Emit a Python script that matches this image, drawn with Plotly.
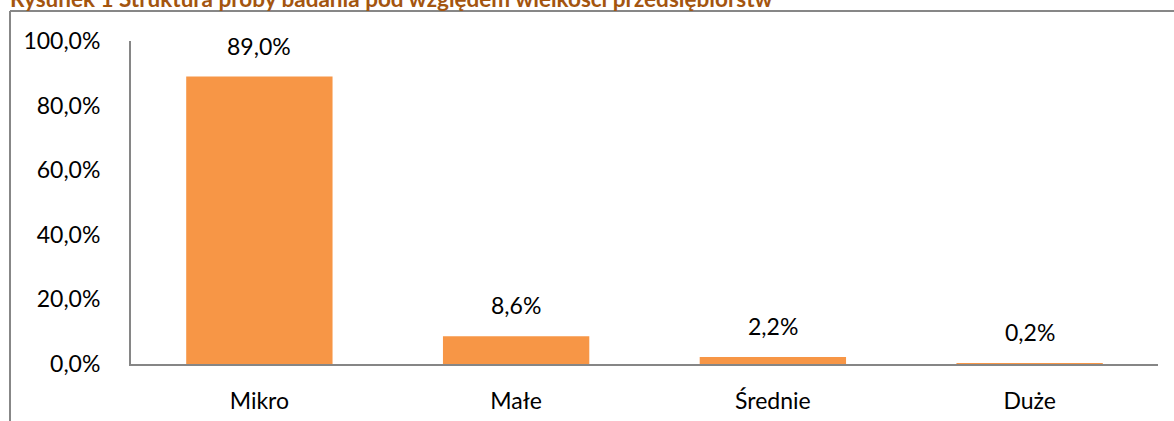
import plotly.graph_objects as go

categories = ["Mikro", "Małe", "Średnie", "Duże"]
values = [0.890, 0.086, 0.022, 0.002]
value_labels = ["89,0%", "8,6%", "2,2%", "0,2%"]
tick_vals = [0, 0.2, 0.4, 0.6, 0.8, 1.0]
tick_text = ["0,0%", "20,0%", "40,0%", "60,0%", "80,0%", "100,0%"]
title_text = "Rysunek 1 Struktura próby badania pod względem wielkości przedsiębiorstw"

FONT = "Lato"
W, H = 1174, 421
L, R, T, B = 131, 16, 41, 57
pw, ph = W - L - R, H - T - B

def px_x(x):
    return (x - L) / pw

def px_y(y):
    return (H - B - y) / ph

fig = go.Figure()
fig.add_trace(go.Bar(
    x=categories, y=values,
    marker=dict(color="#F79646", line=dict(width=0)),
    hoverinfo="skip",
))

for c, v, t in zip(categories, values, value_labels):
    fig.add_annotation(x=c, y=v, text=t, showarrow=False, yanchor="bottom",
                       yshift=15, font=dict(family=FONT, size=23, color="#000000"))

# title (partially clipped at top)
fig.add_annotation(xref="paper", yref="paper", x=px_x(8), y=px_y(14),
                   xanchor="left", yanchor="bottom", text="<b>" + title_text + "</b>",
                   showarrow=False, font=dict(family=FONT, size=22.5, color="#A3550F"))

# outer frame (top and left edges visible)
fig.add_shape(type="line", xref="paper", yref="paper",
              x0=px_x(10), x1=px_x(1180), y0=px_y(11), y1=px_y(11),
              line=dict(color="#878787", width=2))
fig.add_shape(type="line", xref="paper", yref="paper",
              x0=px_x(10), x1=px_x(10), y0=px_y(11), y1=px_y(430),
              line=dict(color="#878787", width=2))

fig.update_layout(
    width=W, height=H,
    margin=dict(l=L, r=R, t=T, b=B, pad=0, autoexpand=False),
    paper_bgcolor="white", plot_bgcolor="white",
    showlegend=False,
    bargap=0.43,
    font=dict(family=FONT, size=23, color="#000000"),
    xaxis=dict(showline=True, linecolor="#868686", linewidth=2, ticks="",
               showgrid=False, ticklabelstandoff=15, automargin=False,
               tickfont=dict(family=FONT, size=23, color="#000000")),
    yaxis=dict(range=[0, 1.0], showline=True, linecolor="#868686", linewidth=2,
               ticks="", showgrid=False, zeroline=False, automargin=False,
               tickvals=tick_vals, ticktext=tick_text, ticklabelstandoff=24,
               tickfont=dict(family=FONT, size=23, color="#000000")),
)

fig.write_html("out.html", config={"displayModeBar": False},
               post_script="document.body.style.margin='0';document.body.style.overflow='hidden';")
